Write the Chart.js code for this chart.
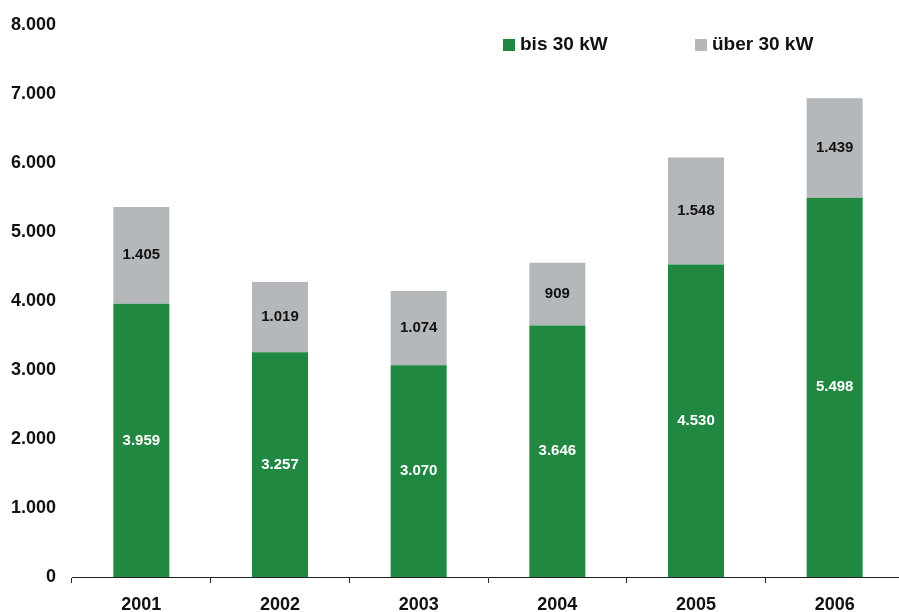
<!DOCTYPE html>
<html>
<head>
<meta charset="utf-8">
<script src="https://cdn.jsdelivr.net/npm/chart.js@4.4.1/dist/chart.umd.min.js"></script>
<style>
  html, body { margin: 0; padding: 0; background: #fff; overflow: hidden; }
  #wrap { position: relative; width: 905px; height: 612px; }
</style>
</head>
<body>
<div id="wrap"><canvas id="chart"></canvas></div>
<script>
// ── Data ──────────────────────────────────────────────────────
const YEARS      = ['2001', '2002', '2003', '2004', '2005', '2006'];
const BIS_30KW   = [3959, 3257, 3070, 3646, 4530, 5498];
const UEBER_30KW = [1405, 1019, 1074, 909, 1548, 1439];
const SERIES     = ['bis 30 kW', 'über 30 kW'];

const GREEN = '#218841';
const GRAY  = '#b5b8bb';
const FONT  = 'Arial, "Liberation Sans", sans-serif';

const fmt = v => v.toLocaleString('de-DE');

// ── Value labels inside bars ─────────────────────────────────
const valueLabels = {
  id: 'valueLabels',
  afterDatasetsDraw(chart) {
    const ctx = chart.ctx;
    ctx.save();
    ctx.font = 'bold 15px ' + FONT;
    ctx.textAlign = 'center';
    ctx.textBaseline = 'middle';
    chart.data.datasets.forEach((ds, di) => {
      const meta = chart.getDatasetMeta(di);
      meta.data.forEach((bar, i) => {
        const mid = (bar.y + bar.base) / 2;
        ctx.fillStyle = di === 0 ? '#ffffff' : '#111111';
        ctx.fillText(fmt(ds.data[i]), bar.x, mid);
      });
    });
    ctx.restore();
  },
};

// ── Legend (top right, two entries) ──────────────────────────
const topLegend = {
  id: 'topLegend',
  afterDraw(chart) {
    const ctx = chart.ctx;
    const items = [
      { x: 503, color: GREEN, text: SERIES[0] },
      { x: 695, color: GRAY,  text: SERIES[1] },
    ];
    ctx.save();
    ctx.font = 'bold 19px ' + FONT;
    ctx.textBaseline = 'middle';
    items.forEach(it => {
      ctx.fillStyle = it.color;
      ctx.fillRect(it.x, 39, 12, 12);
      ctx.fillStyle = '#111111';
      ctx.fillText(it.text, it.x + 17, 45);
    });
    ctx.restore();
  },
};

new Chart(document.getElementById('chart').getContext('2d'), {
  type: 'bar',
  data: {
    labels: YEARS,
    datasets: [
      { label: SERIES[0], data: BIS_30KW,   backgroundColor: GREEN },
      { label: SERIES[1], data: UEBER_30KW, backgroundColor: GRAY  },
    ],
  },
  options: {
    responsive: true,
    maintainAspectRatio: false,
    animation: false,
    layout: { padding: { top: 25, left: 0, right: 1, bottom: 0 } },
    datasets: { bar: { barPercentage: 0.404, categoryPercentage: 1 } },
    plugins: { legend: { display: false }, tooltip: { enabled: false } },
    scales: {
      x: {
        stacked: true,
        afterFit: s => { s.height = 35; },
        grid: {
          offset: true,
          drawOnChartArea: false,
          drawTicks: true,
          tickLength: 6,
          color: '#222',
        },
        border: { display: true, color: '#222', width: 1 },
        ticks: { color: '#111', font: { family: FONT, size: 18, weight: 'bold' }, padding: 11 },
      },
      y: {
        stacked: true,
        min: 0,
        max: 8000,
        grid: { display: false },
        border: { display: false },
        afterFit: s => { s.width = 72; },
        ticks: {
          stepSize: 1000,
          color: '#111',
          padding: 8,
          font: { family: FONT, size: 18, weight: 'bold' },
          callback: v => fmt(v),
        },
      },
    },
  },
  plugins: [valueLabels, topLegend],
});
</script>
</body>
</html>
